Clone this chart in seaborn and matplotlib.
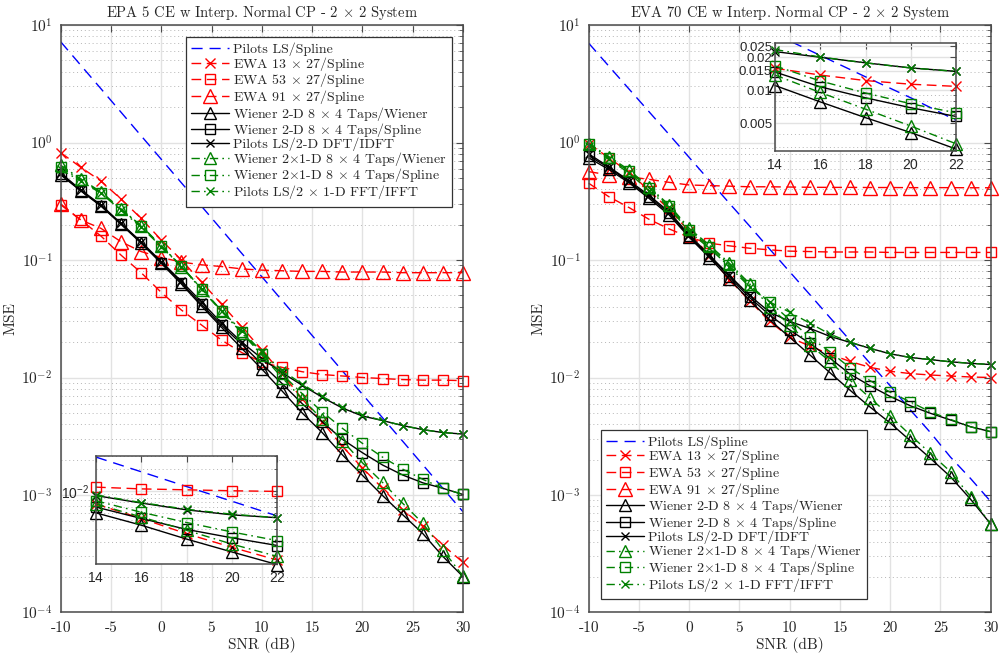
import numpy as np
import matplotlib
matplotlib.use("Agg")
import matplotlib.pyplot as plt
import seaborn as sns
from matplotlib.ticker import LogLocator, NullFormatter, NullLocator, FixedLocator

# ---------------- data ----------------
snr = [-10, -8, -6, -4, -2, 0, 2, 4, 6, 8, 10, 12, 14, 16, 18, 20, 22, 24, 26, 28, 30]
x_tick_values = [-10, -5, 0, 5, 10, 15, 20, 25, 30]
x_tick_labels = ["-10", "-5", "0", "5", "10", "15", "20", "25", "30"]
inset_ticks = [14, 16, 18, 20, 22]
right_inset_yticks = [0.005, 0.01, 0.015, 0.02, 0.025]
right_inset_ylabels = ["0.005", "0.01", "0.015", "0.02", "0.025"]

# EPA 5 (left)
epa_pilots_spline = [7.2, 4.54, 2.87, 1.81, 1.14, 0.72, 0.454, 0.287, 0.181, 0.114, 0.072,
                     0.0454, 0.0287, 0.0181, 0.0114, 0.0072, 0.00454, 0.00287, 0.00181, 0.00114, 0.00072]
epa_ewa13 = [0.82, 0.615, 0.47, 0.33, 0.226, 0.148, 0.100, 0.065, 0.042, 0.027, 0.0172,
             0.0108, 0.0066, 0.0042, 0.0026, 0.0017, 0.00114, 0.00075, 0.00054, 0.000375, 0.000267]
epa_ewa53 = [0.295, 0.219, 0.160, 0.110, 0.078, 0.053, 0.0375, 0.028, 0.0208, 0.0163, 0.0135,
             0.0122, 0.0112, 0.0106, 0.0103, 0.0100, 0.0098, 0.0096, 0.0095, 0.0095, 0.0094]
epa_ewa91 = [0.30, 0.219, 0.186, 0.143, 0.118, 0.105, 0.096, 0.091, 0.088, 0.084, 0.082,
             0.081, 0.080, 0.080, 0.079, 0.079, 0.079, 0.078, 0.078, 0.078, 0.078]
epa_w2d_wiener = [0.53, 0.387, 0.288, 0.201, 0.139, 0.0937, 0.0625, 0.0406, 0.0267, 0.0177, 0.0118,
                  0.0077, 0.0050, 0.0034, 0.0022, 0.00147, 0.00099, 0.00068, 0.00047, 0.00030, 0.000202]
epa_w2d_spline = [0.54, 0.39, 0.29, 0.203, 0.141, 0.095, 0.064, 0.042, 0.0278, 0.0192, 0.0130,
                  0.0089, 0.0060, 0.0042, 0.00298, 0.00229, 0.00180, 0.00148, 0.00127, 0.00114, 0.00101]
epa_ls_dft = [0.55, 0.395, 0.295, 0.205, 0.143, 0.097, 0.066, 0.044, 0.029, 0.020, 0.0145,
              0.0110, 0.0086, 0.0068, 0.0055, 0.0047, 0.0043, 0.0039, 0.0036, 0.0034, 0.0033]
epa_w21d_wiener = [0.64, 0.49, 0.38, 0.272, 0.196, 0.132, 0.088, 0.056, 0.0365, 0.0240, 0.0155,
                   0.0100, 0.0066, 0.0044, 0.0029, 0.00188, 0.00128, 0.00085, 0.000575, 0.00034, 0.000204]
epa_w21d_spline = [0.62, 0.48, 0.375, 0.27, 0.195, 0.132, 0.089, 0.057, 0.037, 0.0245, 0.016,
                   0.0107, 0.0073, 0.0051, 0.0037, 0.00275, 0.0021, 0.00166, 0.00136, 0.00114, 0.00101]
epa_ls_fft = [0.59, 0.47, 0.37, 0.265, 0.19, 0.13, 0.088, 0.057, 0.037, 0.025, 0.0165,
              0.0115, 0.0088, 0.0069, 0.0056, 0.0048, 0.0043, 0.0039, 0.0036, 0.0034, 0.0033]

# EVA 70 (right)
eva_pilots_spline = [7.0, 4.47, 2.86, 1.83, 1.17, 0.746, 0.476, 0.304, 0.195, 0.124, 0.0794,
                     0.0508, 0.0324, 0.0207, 0.0132, 0.0085, 0.0053, 0.0034, 0.0021, 0.00138, 0.00088]
eva_ewa13 = [0.98, 0.74, 0.56, 0.39, 0.27, 0.175, 0.108, 0.068, 0.045, 0.030, 0.022,
             0.0185, 0.0158, 0.0137, 0.0122, 0.0113, 0.0108, 0.0105, 0.0103, 0.0101, 0.0100]
eva_ewa53 = [0.45, 0.346, 0.28, 0.222, 0.184, 0.156, 0.139, 0.132, 0.126, 0.122, 0.119,
             0.118, 0.117, 0.117, 0.117, 0.116, 0.116, 0.116, 0.116, 0.116, 0.116]
eva_ewa91 = [0.565, 0.53, 0.51, 0.486, 0.458, 0.435, 0.43, 0.425, 0.42, 0.42, 0.418,
             0.416, 0.415, 0.415, 0.414, 0.414, 0.413, 0.413, 0.413, 0.412, 0.412]
eva_w2d_wiener = [0.74, 0.59, 0.455, 0.335, 0.242, 0.156, 0.105, 0.069, 0.0455, 0.031, 0.022,
                  0.0156, 0.0110, 0.0078, 0.0056, 0.0041, 0.0029, 0.00205, 0.00143, 0.00092, 0.000566]
eva_w2d_spline = [0.77, 0.61, 0.465, 0.345, 0.25, 0.16, 0.108, 0.072, 0.048, 0.034, 0.0254,
                  0.0195, 0.0146, 0.0107, 0.0085, 0.0069, 0.00575, 0.00496, 0.00435, 0.00381, 0.00346]
eva_ls_dft = [0.80, 0.62, 0.475, 0.355, 0.257, 0.164, 0.11, 0.074, 0.050, 0.036, 0.030,
              0.0262, 0.0224, 0.0199, 0.0177, 0.0159, 0.0148, 0.0142, 0.0136, 0.0132, 0.0129]
eva_w21d_wiener = [0.98, 0.76, 0.585, 0.42, 0.294, 0.186, 0.134, 0.094, 0.063, 0.040, 0.028,
                   0.019, 0.0137, 0.0095, 0.0067, 0.0047, 0.00324, 0.00226, 0.00158, 0.00097, 0.000566]
eva_w21d_spline = [0.97, 0.74, 0.57, 0.41, 0.288, 0.18, 0.13, 0.091, 0.061, 0.044, 0.031,
                   0.022, 0.0166, 0.0121, 0.0094, 0.0075, 0.0062, 0.0051, 0.0044, 0.0038, 0.00346]
eva_ls_fft = [0.93, 0.72, 0.55, 0.39, 0.28, 0.174, 0.126, 0.088, 0.059, 0.044, 0.036,
              0.029, 0.0234, 0.0200, 0.0177, 0.0159, 0.0148, 0.0142, 0.0136, 0.0132, 0.0129]

labels = ["Pilots LS/Spline",
          r"EWA 13 $\times$ 27/Spline",
          r"EWA 53 $\times$ 27/Spline",
          r"EWA 91 $\times$ 27/Spline",
          r"Wiener 2-D 8 $\times$ 4 Taps/Wiener",
          r"Wiener 2-D 8 $\times$ 4 Taps/Spline",
          "Pilots LS/2-D DFT/IDFT",
          r"Wiener 2$\times$1-D 8 $\times$ 4 Taps/Wiener",
          r"Wiener 2$\times$1-D 8 $\times$ 4 Taps/Spline",
          r"Pilots LS/2 $\times$ 1-D FFT/IFFT"]

left_title = r"EPA 5 CE w Interp. Normal CP - 2 $\times$ 2 System"
right_title = r"EVA 70 CE w Interp. Normal CP - 2 $\times$ 2 System"

left_series = [epa_pilots_spline, epa_ewa13, epa_ewa53, epa_ewa91, epa_w2d_wiener,
               epa_w2d_spline, epa_ls_dft, epa_w21d_wiener, epa_w21d_spline, epa_ls_fft]
right_series = [eva_pilots_spline, eva_ewa13, eva_ewa53, eva_ewa91, eva_w2d_wiener,
                eva_w2d_spline, eva_ls_dft, eva_w21d_wiener, eva_w21d_spline, eva_ls_fft]

# ---------------- style ----------------
sns.set_style("white")
plt.rcParams["font.family"] = ["cmr10", "DejaVu Serif"]
plt.rcParams["mathtext.fontset"] = "cm"
plt.rcParams["axes.unicode_minus"] = False
plt.rcParams["axes.formatter.use_mathtext"] = True

GREEN = "#008000"
DASH_B = (0, (8, 5))
DASH_R = (0, (7, 4))
DASHDOT = (0, (6, 3, 1.2, 3))
styles = [
    ("#0000ff", DASH_B, None, 0),
    ("#ff0000", DASH_R, "x", 7),
    ("#ff0000", DASH_R, "s", 7),
    ("#ff0000", DASH_R, "^", 10),
    ("#000000", "-", "^", 9),
    ("#000000", "-", "s", 7),
    ("#000000", "-", "x", 6),
    (GREEN, DASHDOT, "^", 9),
    (GREEN, DASHDOT, "s", 7),
    (GREEN, DASHDOT, "x", 6),
]

AX_COL = "#4a4a4a"
TXT_COL = "#262626"
SANS = ["Liberation Sans", "DejaVu Sans"]


def draw(ax, series, idx=None, ylim=None):
    handles = []
    for vals, (c, ls, m, ms), lab in zip(series, styles, labels):
        xs = snr if idx is None else [snr[i] for i in idx]
        ys = vals if idx is None else [vals[i] for i in idx]
        if m is None:
            clip = True
        elif ylim is None:
            clip = False
        else:
            clip = not all(ylim[0] * 0.97 <= v <= ylim[1] for v in ys)
        kw = dict(x=xs, y=ys, ax=ax, color=c, linestyle=ls, linewidth=1.0,
                  estimator=None, sort=False, legend=False, clip_on=clip)
        if m is not None:
            kw.update(marker=m, markersize=ms, markerfacecolor="none",
                      markeredgecolor=c, markeredgewidth=1.0)
        sns.lineplot(**kw)
        line = ax.lines[-1]
        line.set_label(lab)
        handles.append(line)
    return handles


def style_main(ax):
    ax.set_yscale("log")
    ax.set_xlim(-10, 30)
    ax.set_ylim(1e-4, 1e1)
    ax.set_xticks(x_tick_values)
    ax.set_xticklabels(x_tick_labels)
    ax.xaxis.set_minor_locator(NullLocator())
    ax.yaxis.set_major_locator(LogLocator(base=10, numticks=10))
    ax.yaxis.set_minor_locator(LogLocator(base=10, subs=np.arange(2, 10), numticks=20))
    ax.yaxis.set_minor_formatter(NullFormatter())
    ax.grid(True, which="major", color="#e2e2e2", linewidth=1.0, linestyle="-")
    ax.grid(True, which="minor", axis="y", color="#b5b5b5", linewidth=0.7, linestyle=(0, (1, 3)))
    ax.set_axisbelow(True)
    ax.tick_params(which="both", direction="in", top=True, right=True, colors=AX_COL,
                   labelcolor=TXT_COL, labelsize=11)
    ax.tick_params(which="major", length=5, width=0.8, pad=6)
    ax.tick_params(which="minor", length=3, width=0.6)
    for s in ax.spines.values():
        s.set_color(AX_COL)
        s.set_linewidth(1.1)
    ax.set_xlabel("SNR (dB)", fontsize=11, color=TXT_COL, labelpad=2)
    ax.set_ylabel("MSE", fontsize=11, color=TXT_COL)
    ax.yaxis.set_label_coords(-0.108, 0.5)


def style_inset(ax, ylim):
    ax.set_yscale("log")
    ax.set_xlim(14, 22)
    ax.set_ylim(*ylim)
    ax.set_xticks(inset_ticks)
    ax.xaxis.set_minor_locator(NullLocator())
    ax.yaxis.set_minor_locator(LogLocator(base=10, subs=np.arange(2, 10), numticks=20))
    ax.yaxis.set_minor_formatter(NullFormatter())
    ax.grid(True, which="major", color="#e2e2e2", linewidth=1.0, linestyle="-")
    ax.grid(True, which="minor", axis="y", color="#b5b5b5", linewidth=0.7, linestyle=(0, (1, 3)))
    ax.set_axisbelow(True)
    ax.set_facecolor("white")
    ax.tick_params(which="both", direction="in", top=True, right=True, colors=AX_COL,
                   labelcolor=TXT_COL, labelsize=10)
    ax.tick_params(which="major", length=4, width=0.8, pad=5)
    ax.tick_params(which="minor", length=2.5, width=0.6)
    for s in ax.spines.values():
        s.set_color(AX_COL)
        s.set_linewidth(1.1)


fig = plt.figure(figsize=(10, 6.55), dpi=100)
fig.patch.set_facecolor("white")

axL = fig.add_axes([0.0607, 0.0649, 0.4023, 0.8969])
axR = fig.add_axes([0.5887, 0.0649, 0.4020, 0.8969])

hL = draw(axL, left_series)
hR = draw(axR, right_series)
for ax, title in ((axL, left_title), (axR, right_title)):
    style_main(ax)
    ax.set_title(title, fontsize=10.5, color=TXT_COL, pad=6)

leg_kw = dict(fontsize=10, handlelength=2.7, handletextpad=0.3, labelspacing=-0.1,
              borderpad=0.4, borderaxespad=0, numpoints=1, fancybox=False,
              framealpha=1, edgecolor="#333333")
lg = axL.legend(hL, labels, loc="upper right", bbox_to_anchor=(0.9727, 0.9796), **leg_kw)
lg.get_frame().set_linewidth(0.9)
lg2 = axR.legend(hR, labels, loc="lower left", bbox_to_anchor=(0.030, 0.0225), **leg_kw)
lg2.get_frame().set_linewidth(0.9)

# insets
inset_idx = [12, 13, 14, 15, 16]
ylimL = (0.00100, 0.030)
insL = fig.add_axes([0.096, 0.1385, 0.1813, 0.1658])
insL.set_zorder(5)
draw(insL, left_series, idx=inset_idx, ylim=ylimL)
style_inset(insL, ylimL)
insL.yaxis.set_major_locator(FixedLocator([1e-2]))
insL.set_yticklabels([r"$\mathregular{10^{-2}}$"])
for t in insL.get_yticklabels() + insL.get_xticklabels():
    t.set_fontfamily(SANS)

ylimR = (0.0028, 0.027)
insR = fig.add_axes([0.775, 0.7699, 0.181, 0.1649])
insR.set_zorder(5)
draw(insR, right_series, idx=inset_idx, ylim=ylimR)
style_inset(insR, ylimR)
insR.yaxis.set_major_locator(FixedLocator(right_inset_yticks))
insR.set_yticklabels(right_inset_ylabels)
insR.tick_params(axis="y", pad=2, labelsize=9.5)
for t in insR.get_yticklabels() + insR.get_xticklabels():
    t.set_fontfamily(SANS)

fig.savefig("out.png", dpi=100, facecolor="white")
